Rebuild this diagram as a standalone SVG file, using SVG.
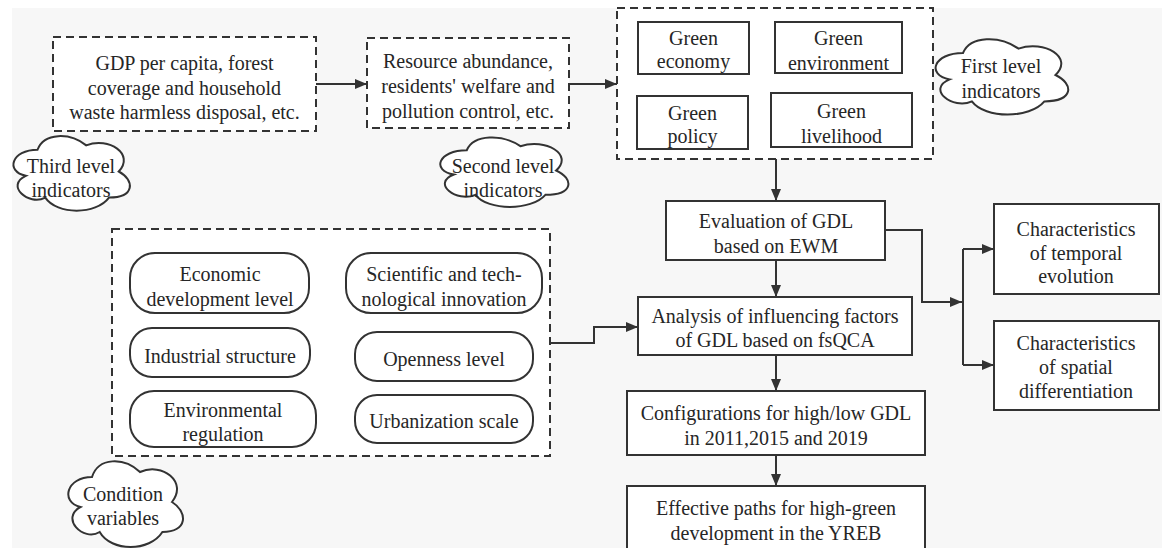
<svg xmlns="http://www.w3.org/2000/svg" width="1166" height="548" viewBox="0 0 1166 548">
<defs>
<style>
.bg{fill:#f7f7f7}
.dash{fill:#fff;stroke:#333;stroke-width:2;stroke-dasharray:8 5}
.box{fill:#fff;stroke:#333;stroke-width:2}
.pill{fill:#fff;stroke:#333;stroke-width:2}
.cloud{fill:#fff;stroke:#333;stroke-width:2}
.t{font-size:20px;fill:#262626;text-anchor:middle}
.conn{fill:none;stroke:#333;stroke-width:2}
</style>
<marker id="arr" markerUnits="userSpaceOnUse" markerWidth="13" markerHeight="11" refX="12" refY="5" orient="auto">
<path d="M0,0 L12,5 L0,10 Z" fill="#333"/>
</marker>
</defs>
<rect x="0" y="0" width="1166" height="548" fill="#fff"/>
<rect class="bg" x="12" y="8" width="1150" height="540"/>
<g class="t" font-family="'Liberation Serif', Tinos, 'Times New Roman', 'DejaVu Serif', serif">

<g id="third-level-box">
<rect class="dash" x="53" y="37" width="263" height="94"/>
<text x="184.5" y="70">GDP per capita, forest</text>
<text x="184.5" y="94.5">coverage and household</text>
<text x="184.5" y="119">waste harmless disposal, etc.</text>
</g>
<g id="second-level-box">
<rect class="dash" x="367" y="38" width="202" height="90"/>
<text x="468" y="68">Resource abundance,</text>
<text x="468" y="93">residents' welfare and</text>
<text x="468" y="118">pollution control, etc.</text>
</g>
<g id="first-level-box">
<rect class="dash" x="617" y="8" width="316" height="151"/>
</g>
<g id="green-economy">
<rect class="box" x="638" y="22" width="111" height="52"/>
<text x="693.5" y="45">Green</text>
<text x="693.5" y="68">economy</text>
</g>
<g id="green-environment">
<rect class="box" x="775" y="22" width="127" height="51"/>
<text x="838.5" y="45">Green</text>
<text x="838.5" y="70">environment</text>
</g>
<g id="green-policy">
<rect class="box" x="637" y="96" width="111" height="53"/>
<text x="692.5" y="120">Green</text>
<text x="692.5" y="143">policy</text>
</g>
<g id="green-livelihood">
<rect class="box" x="771" y="93" width="141" height="54"/>
<text x="841.5" y="118">Green</text>
<text x="841.5" y="143">livelihood</text>
</g>

<g id="cloud-third">
<path class="cloud" d="M37.5,149.75 C11.5,149.75 5,171.5 25.8,175.85 C5,185.42 28.4,206.3 45.3,197.6 C57,215 96,215 109,197.6 C135,197.6 135,180.2 118.75,171.5 C135,154.1 109,136.7 86.25,145.4 C70,132.35 44,132.35 37.5,149.75 Z"/>
<text x="71" y="173">Third level</text>
<text x="71" y="197">indicators</text>
</g>
<g id="cloud-second">
<path class="cloud" d="M466.75,150.25 C438.15,150.25 431,170.5 453.88,174.55 C431,183.46 456.74,202.9 475.33,194.8 C488.2,211 531.1,211 545.4,194.8 C574,194.8 574,178.6 556.13,170.5 C574,154.3 545.4,138.1 520.38,146.2 C502.5,134.05 473.9,134.05 466.75,150.25 Z"/>
<text x="503" y="173">Second level</text>
<text x="503" y="197">indicators</text>
</g>
<g id="cloud-first">
<path class="cloud" d="M963,53 C933.4,53 926,75 949.68,79.4 C926,89.08 952.64,110.2 971.88,101.4 C985.2,119 1029.6,119 1044.4,101.4 C1074,101.4 1074,83.8 1055.5,75 C1074,57.4 1044.4,39.8 1018.5,48.6 C1000,35.4 970.4,35.4 963,53 Z"/>
<text x="1001" y="73">First level</text>
<text x="1001" y="98">indicators</text>
</g>
<g id="cloud-condition">
<path class="cloud" d="M92,477 C66.4,477 60,502 80.48,507 C60,518 83.04,542 99.68,532 C111.2,552 149.6,552 162.4,532 C188,532 188,512 172,502 C188,482 162.4,462 140,472 C124,457 98.4,457 92,477 Z"/>
<text x="123" y="501">Condition</text>
<text x="123" y="525">variables</text>
</g>

<g id="condition-box">
<rect class="dash" x="112" y="229" width="438" height="227"/>
</g>
<g id="economic">
<rect class="pill" x="130" y="253" width="179" height="60" rx="25" ry="25"/>
<text x="220" y="281">Economic</text>
<text x="220" y="306">development level</text>
</g>
<g id="scientific">
<rect class="pill" x="346" y="253" width="196" height="60" rx="25" ry="25"/>
<text x="444" y="281">Scientific and tech-</text>
<text x="444" y="306">nological innovation</text>
</g>
<g id="industrial">
<rect class="pill" x="130" y="328" width="180" height="49" rx="22" ry="22"/>
<text x="220" y="363">Industrial structure</text>
</g>
<g id="openness">
<rect class="pill" x="355" y="332" width="178" height="49" rx="22" ry="22"/>
<text x="444" y="366">Openness level</text>
</g>
<g id="environmental">
<rect class="pill" x="130" y="391" width="186" height="56" rx="24" ry="24"/>
<text x="223" y="417">Environmental</text>
<text x="223" y="441">regulation</text>
</g>
<g id="urbanization">
<rect class="pill" x="355" y="395" width="178" height="48" rx="22" ry="22"/>
<text x="444" y="428">Urbanization scale</text>
</g>

<g id="evaluation">
<rect class="box" x="666" y="201" width="219" height="59"/>
<text x="776" y="228">Evaluation of GDL</text>
<text x="776" y="253">based on EWM</text>
</g>
<g id="analysis">
<rect class="box" x="638" y="297" width="274" height="58"/>
<text x="775" y="323">Analysis of influencing factors</text>
<text x="775" y="347">of GDL based on fsQCA</text>
</g>
<g id="configurations">
<rect class="box" x="627" y="391" width="298" height="64"/>
<text x="776" y="420">Configurations for high/low GDL</text>
<text x="776" y="445">in 2011,2015 and 2019</text>
</g>
<g id="effective">
<rect class="box" x="627" y="486" width="298" height="70"/>
<text x="776" y="515">Effective paths for high-green</text>
<text x="776" y="540">development in the YREB</text>
</g>
<g id="temporal">
<rect class="box" x="994" y="204" width="165" height="90"/>
<text x="1076" y="236">Characteristics</text>
<text x="1076" y="259.5">of temporal</text>
<text x="1076" y="283">evolution</text>
</g>
<g id="spatial">
<rect class="box" x="994" y="321" width="165" height="89"/>
<text x="1076" y="350">Characteristics</text>
<text x="1076" y="374">of spatial</text>
<text x="1076" y="398">differentiation</text>
</g>
</g>

<g id="connectors">
<path class="conn" d="M316,84 L367,84" marker-end="url(#arr)"/>
<path class="conn" d="M569,84 L617,84" marker-end="url(#arr)"/>
<path class="conn" d="M776,159 L776,201" marker-end="url(#arr)"/>
<path class="conn" d="M776,260 L776,297" marker-end="url(#arr)"/>
<path class="conn" d="M776,355 L776,391" marker-end="url(#arr)"/>
<path class="conn" d="M776,455 L776,486" marker-end="url(#arr)"/>
<path class="conn" d="M550,343 L594,343 L594,327 L638,327" marker-end="url(#arr)"/>
<path class="conn" d="M885,230 L922,230 L922,302 L962,302" marker-end="url(#arr)"/>
<path class="conn" d="M963,249 L963,365"/>
<path class="conn" d="M963,249 L994,249" marker-end="url(#arr)"/>
<path class="conn" d="M963,365 L994,365" marker-end="url(#arr)"/>
</g>
</svg>
